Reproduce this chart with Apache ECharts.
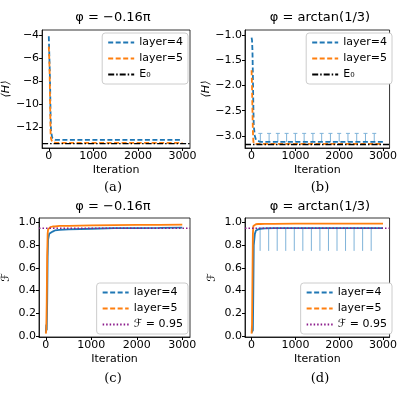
<!DOCTYPE html>
<html><head><meta charset="utf-8">
<script src="https://cdn.jsdelivr.net/npm/echarts@6/dist/echarts.min.js"></script>
<style>html,body{margin:0;background:#fff}#c{width:400px;height:400px}</style>
</head><body><div id="c"></div>
<script>
// Panel (a)
const aX = [0,10,20,30,40,50,75,100,150,200,300,500,1000,1500,2000,2500,3000];
const aL4 = [-4.1,-5.5,-6.8,-8.5,-11.0,-12.3,-12.9,-13.05,-13.1,-13.1,-13.1,-13.1,-13.1,-13.1,-13.1,-13.1,-13.1];
const aL5 = [-5.0,-6.0,-7.5,-10.0,-12.5,-13.0,-13.25,-13.3,-13.35,-13.35,-13.35,-13.35,-13.35,-13.35,-13.35,-13.35,-13.35];
const aE0 = -13.42;
// Panel (b)
const bX = [0,10,20,30,40,50,75,100,150,200,300,500,1000,1500,2000,2500,3000];
const bL4 = [-1.05,-1.1,-1.3,-1.8,-2.4,-2.8,-3.0,-3.08,-3.1,-3.12,-3.12,-3.12,-3.12,-3.12,-3.12,-3.12,-3.12];
const bL5 = [-1.7,-2.0,-2.5,-2.9,-3.1,-3.15,-3.16,-3.16,-3.16,-3.16,-3.16,-3.16,-3.16,-3.16,-3.16,-3.16,-3.16];
const bE0 = -3.17;
const bErrX = [200,400,600,800,1000,1200,1400,1600,1800,2000,2200,2400,2600,2800];
const bErrLo = [-3.12,-3.12,-3.12,-3.12,-3.12,-3.12,-3.12,-3.12,-3.12,-3.12,-3.12,-3.12,-3.12,-3.12];
const bErrHi = [-2.95,-2.95,-2.95,-2.95,-2.95,-2.95,-2.95,-2.95,-2.95,-2.95,-2.95,-2.95,-2.95,-2.95];
// Panel (c)
const cX = [0,10,20,30,40,50,75,100,150,200,300,500,1000,1500,2000,2500,3000];
const cL4 = [0.03,0.1,0.05,0.3,0.7,0.85,0.9,0.91,0.92,0.93,0.935,0.94,0.945,0.95,0.95,0.952,0.955];
const cL5 = [0.02,0.05,0.3,0.7,0.9,0.94,0.955,0.96,0.965,0.965,0.97,0.97,0.975,0.978,0.98,0.98,0.982];
// Panel (d)
const dX = [0,10,20,30,40,50,75,100,150,200,300,500,1000,1500,2000,2500,3000];
const dL4 = [0.03,0.04,0.03,0.05,0.4,0.8,0.9,0.93,0.94,0.945,0.948,0.95,0.95,0.95,0.95,0.95,0.95];
const dL5 = [0.02,0.1,0.5,0.9,0.97,0.98,0.985,0.985,0.987,0.987,0.988,0.988,0.99,0.99,0.99,0.99,0.99];
const dErrX = [195,390,585,780,975,1170,1365,1560,1755,1950,2145,2340,2535,2730];
const dErrLo = [0.75,0.75,0.75,0.75,0.75,0.75,0.75,0.75,0.75,0.75,0.75,0.75,0.75,0.75];
const dErrHi = [0.95,0.95,0.95,0.95,0.95,0.95,0.95,0.95,0.95,0.95,0.95,0.95,0.95,0.95];
const fRef = 0.95;

const blue='#1f77b4', orange='#ff7f0e', F='DejaVu Sans';
const zip=(x,y)=>x.map((v,i)=>[v,y[i]]);
const grids=[
 {left:36,top:30,width:154,height:118},
 {left:245,top:30,width:149,height:118},
 {left:36,top:218,width:154,height:119},
 {left:245,top:218,width:149,height:119}];
const xr=[[-150,3170],[-150,3150],[-150,3170],[-150,3150]];
const yr=[[-13.8,-3.56],[-3.24,-0.9],[-0.01,1.04],[-0.01,1.04]];
const yt=[[-12,-10,-8,-6,-4],[-3.0,-2.5,-2.0,-1.5,-1.0],[0,0.2,0.4,0.6,0.8,1.0],[0,0.2,0.4,0.6,0.8,1.0]];
const yname=['⟨H⟩','⟨H⟩','ℱ','ℱ'];
const ax={axisLine:{show:true,onZero:false,lineStyle:{color:'#000',width:0.8}},splitLine:{show:false}};
const xAxis=grids.map((g,i)=>Object.assign({},ax,{type:'value',gridIndex:i,min:xr[i][0],max:xr[i][1],
 name:'Iteration',nameLocation:'middle',nameGap:17,nameTextStyle:{fontFamily:F,fontSize:11,color:'#000'},
 axisTick:{show:true,length:3,customValues:[0,1000,2000,3000],lineStyle:{color:'#000'}},
 axisLabel:{color:'#000',fontFamily:F,fontSize:11,margin:3,customValues:[0,1000,2000,3000],formatter:v=>String(v)}}));
const yAxis=grids.map((g,i)=>Object.assign({},ax,{type:'value',gridIndex:i,min:yr[i][0],max:yr[i][1],
 name:yname[i],nameLocation:'middle',nameGap:i<2?28:27,nameRotate:90,nameTextStyle:{fontFamily:F,fontSize:11,fontStyle:'italic',color:'#000'},
 axisTick:{show:true,length:3,customValues:yt[i],lineStyle:{color:'#000'}},
 axisLabel:{color:'#000',fontFamily:F,fontSize:11,margin:3,customValues:yt[i],formatter:v=>(i==0?String(v):v.toFixed(1)).replace('-','−')}}));
function line(name,i,data,color,type){return {type:'line',name,xAxisIndex:i,yAxisIndex:i,data,showSymbol:false,symbol:'none',
 lineStyle:{color,width:1.8,type},itemStyle:{color},z:3}}
function hline(name,i,y,color,type){return {type:'line',name,xAxisIndex:i,yAxisIndex:i,data:[[xr[i][0],y],[xr[i][1],y]],symbol:'none',showSymbol:false,
 lineStyle:{color,width:1.4,type},itemStyle:{color},z:4}}
function err(i,x,lo,hi){return {type:'custom',xAxisIndex:i,yAxisIndex:i,data:x.map((v,k)=>[v,lo[k],hi[k]]),z:2,
 renderItem:(p,api)=>{const a=api.coord([api.value(0),api.value(1)]),b=api.coord([api.value(0),api.value(2)]);
  const s={stroke:'#7fb3d9',lineWidth:1};
  return {type:'group',children:[{type:'line',shape:{x1:a[0],y1:a[1],x2:b[0],y2:b[1]},style:s},
   {type:'line',shape:{x1:b[0]-2,y1:b[1],x2:b[0]+2,y2:b[1]},style:s}]}}}}
const dash=[5,2.5], dd=[6,2,1.5,2], dot=[1.5,2];
const series=[
 line('layer=4',0,zip(aX,aL4),blue,dash),line('layer=5',0,zip(aX,aL5),orange,dash),hline('E₀',0,aE0,'#000',dd),
 err(1,bErrX,bErrLo,bErrHi),line('layer=4',1,zip(bX,bL4),blue,dash),line('layer=5',1,zip(bX,bL5),orange,dash),hline('E₀',1,bE0,'#000',dd),
 line('layer=4',2,zip(cX,cL4),blue,'solid'),line('layer=5',2,zip(cX,cL5),orange,'solid'),hline('ℱ = 0.95',2,fRef,'#8b1a8b',dot),
 err(3,dErrX,dErrLo,dErrHi),line('layer=4',3,zip(dX,dL4),blue,'solid'),line('layer=5',3,zip(dX,dL5),orange,'solid'),hline('ℱ = 0.95',3,fRef,'#8b1a8b',dot)];
const lg=(pos)=>Object.assign({show:true,orient:'vertical',itemWidth:26,itemHeight:8,itemGap:5,
 itemStyle:{opacity:0},
 backgroundColor:'#fff',borderColor:'#ccc',borderWidth:1,borderRadius:3,padding:[4,5],
 textStyle:{fontFamily:F,fontSize:11,color:'#000'}},pos);
const legend=[
 lg({data:['layer=4','layer=5','E₀'],right:400-188,top:33}),
 lg({data:['layer=4','layer=5','E₀'],right:400-392,top:33}),
 lg({data:['layer=4','layer=5','ℱ = 0.95'],right:400-188,top:283}),
 lg({data:['layer=4','layer=5','ℱ = 0.95'],right:400-392,top:283})];
const titles=[['φ = −0.16π',113,11],['φ = arctan(1/3)',320,11],['φ = −0.16π',113,200],['φ = arctan(1/3)',320,200]];
const caps=[['(a)',113,181],['(b)',320,181],['(c)',113,372],['(d)',320,372]];
const graphic=[...titles.map(t=>({type:'text',x:t[1],y:t[2],style:{text:t[0],font:'13px "DejaVu Sans"',fill:'#000',textAlign:'center'}})),
 ...caps.map(t=>({type:'text',x:t[1],y:t[2],style:{text:t[0],font:'13px "DejaVu Serif"',fill:'#000',textAlign:'center'}}))];
const ch=echarts.init(document.getElementById('c'));
ch.setOption({animation:false,grid:grids.map(g=>Object.assign({show:true,borderColor:'#000',borderWidth:0.8},g)),
 xAxis,yAxis,series,legend,graphic});
</script></body></html>
